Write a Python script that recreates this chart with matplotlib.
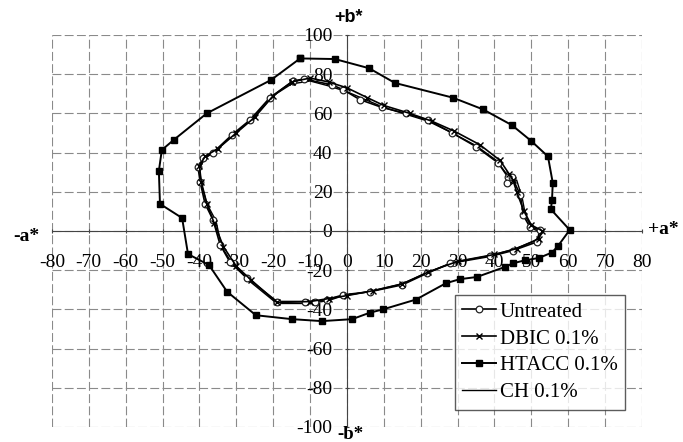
import matplotlib
matplotlib.use("Agg")
import matplotlib.pyplot as plt

# ---- data (a*, b*) ----
untreated_a = [-14.6, -11.7, -4, -1, 3.5, 9.5, 16, 22, 28.5, 35, 41, 43.6, 43.4, 44.7, 47, 47.8, 49.6, 52.3,
               51.5, 45, 38.8, 28, 21.7, 15, 6.2, -1, -5.4, -8.7, -11.4, -19, -27, -31.7, -34.4, -36.3,
               -38.5, -39.8, -40.4, -39, -36.3, -31.2, -26.3, -20.9, -14.6]
untreated_b = [76.5, 77.5, 74.5, 72, 67, 63, 60, 56.6, 50, 43, 34.7, 27.6, 24.5, 27.6, 18.4, 8, 2, 0.5,
               -5.6, -10, -13, -16.5, -21.6, -27.5, -31, -32.6, -35, -36, -36, -36, -24, -16, -7, 5.6,
               14, 25, 32.7, 37, 40, 49, 56.6, 68, 76.5]

dbic_a = [-15, -10, -5, 0, 5.5, 10, 17, 23, 29, 36, 41.5, 44, 45, 46, 48, 50, 53, 52, 46, 40, 30, 22, 15,
          7, 0, -5, -10, -19, -26, -30, -33.5, -36, -38, -39.5, -40, -38.5, -35, -30, -25, -20, -15]
dbic_b = [76, 78, 76, 73, 68, 64, 60, 56, 51, 44, 36, 29, 26, 20, 10, 3, 0, -4, -9, -12, -15.5, -21, -27,
          -30.5, -33, -34.5, -36, -36.5, -25, -18, -8, 4, 14, 25, 33, 38, 42, 50, 58, 69, 76]

htacc_a = [-12.7, -3.3, 6, 13, 28.7, 36.9, 44.7, 49.9, 54.5, 55.8, 55.6, 55.3, 60.4, 57.2, 55.6, 52, 48.2,
           45, 42.8, 35.2, 30.6, 26.8, 18.7, 9.8, 6.2, 1.4, -6.8, -14.9, -24.7, -32.5, -37.4, -43.1, -44.7,
           -50.7, -51, -50.2, -47, -38, -20.6, -12.7]
htacc_b = [88, 87.7, 83, 75.5, 68, 62, 54, 46, 38, 24.5, 16, 11, 0.5, -7.7, -11, -13.8, -15, -16.5, -18.4,
           -23.5, -24.6, -26.7, -35, -40, -41.7, -45, -46, -45, -43, -31, -17.4, -11.8, 6.6, 13.8, 30.6,
           41.3, 46.4, 60, 77, 88]

ch_a = [-15, -10, -5, 0, 5, 10, 16, 22, 28, 35, 40.5, 43.5, 44, 46, 47.5, 48.5, 50.5, 53, 51, 45, 39, 29,
        22, 15, 6, -1, -5, -10, -19, -26.5, -31, -34, -35.5, -38, -39.5, -40, -38.5, -35.5, -30.5, -25.5,
        -20, -15]
ch_b = [75, 76.5, 74, 71, 67, 63, 59.5, 56, 50.5, 43.5, 36, 28.5, 23, 26, 17, 7, 1, -1, -5, -9.5, -12.5,
        -16, -21, -27, -31, -33, -35.5, -37, -37, -25.5, -17, -8, 5, 14, 24, 32, 37, 41, 49.5, 57.5, 69, 75]

x_ticks = [-80, -70, -60, -50, -40, -30, -20, -10, 0, 10, 20, 30, 40, 50, 60, 70, 80]
y_ticks = [-100, -80, -60, -40, -20, 0, 20, 40, 60, 80, 100]

serif = ["Liberation Serif", "DejaVu Serif"]
plt.rcParams["font.family"] = serif

fig = plt.figure(figsize=(6.83, 4.42), dpi=100)
ax = fig.add_axes([0.076, 0.034, 0.864, 0.887])

ax.plot(untreated_a, untreated_b, color="black", lw=1.2, marker="o", ms=4.8, mfc="white", mec="#222",
        mew=0.9, label="Untreated", zorder=4)
ax.plot(dbic_a, dbic_b, color="black", lw=1.2, marker="x", ms=5, mew=1.0, label="DBIC 0.1%", zorder=4)
ax.plot(htacc_a, htacc_b, color="black", lw=1.4, marker="s", ms=4.8, mfc="black", mec="black",
        label="HTACC 0.1%", zorder=4)
ax.plot(ch_a, ch_b, color="black", lw=1.0, label="CH 0.1%", zorder=3)

ax.set_xlim(-80, 80)
ax.set_ylim(-100, 100)
ax.set_xticks(x_ticks)
ax.set_yticks(y_ticks)
ax.set_xticklabels([str(v) for v in x_ticks])
ax.set_yticklabels([str(v) for v in y_ticks])

ax.grid(True, color="#8a8a8a", lw=0.8, ls=(0, (8, 3)))
ax.set_axisbelow(True)

for s in ["top", "right"]:
    ax.spines[s].set_visible(False)
ax.spines["left"].set_position(("data", 0))
ax.spines["bottom"].set_position(("data", 0))
ax.spines["left"].set_color("#444")
ax.spines["bottom"].set_color("#444")
ax.tick_params(axis="both", labelsize=14, length=3, direction="inout", color="#444")
ax.tick_params(axis="x", pad=15)
ax.tick_params(axis="y", pad=9)

ax.text(-3.5, 104.5, "+b*", ha="left", va="bottom", fontsize=13, fontweight="bold",
        family=["Liberation Sans", "DejaVu Sans"])
ax.text(-2.5, -104, "-b*", ha="left", va="center", fontsize=13.5, fontweight="bold")
ax.text(-83.5, -3, "-a*", ha="right", va="center", fontsize=14, fontweight="bold")
ax.text(81.5, 0.5, "+a*", ha="left", va="center", fontsize=14, fontweight="bold")

leg = ax.legend(loc="upper left", bbox_to_anchor=(0.683, 0.337), fontsize=15, frameon=True,
                fancybox=False, edgecolor="#333", handlelength=1.6, handletextpad=0.2,
                labelspacing=0.35, borderpad=0.35, borderaxespad=0)
leg.get_frame().set_linewidth(1.0)

fig.savefig("out.png", dpi=100)
